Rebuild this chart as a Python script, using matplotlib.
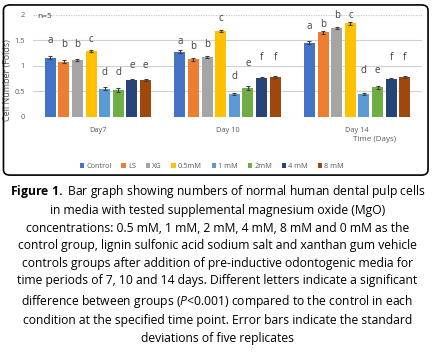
import matplotlib.pyplot as plt
from matplotlib.patches import FancyBboxPatch
import numpy as np

days = ["Day7", "Day 10", "Day 14"]
groups = ["Control", "LS", "XG", "0.5mM", "1 mM", "2mM", "4 mM", "8 mM"]
colors = ["#4472C4", "#ED7D31", "#A5A5A5", "#FFC000", "#5B9BD5", "#70AD47", "#264478", "#9E480E"]

# values per group, one entry per day
control = [1.16, 1.28, 1.45]
ls = [1.08, 1.13, 1.66]
xg = [1.12, 1.18, 1.75]
mm05 = [1.29, 1.69, 1.83]
mm1 = [0.55, 0.45, 0.45]
mm2 = [0.52, 0.57, 0.58]
mm4 = [0.73, 0.76, 0.74]
mm8 = [0.73, 0.78, 0.78]
values = [control, ls, xg, mm05, mm1, mm2, mm4, mm8]

errors = [
    [0.03, 0.03, 0.03],
    [0.03, 0.03, 0.03],
    [0.02, 0.02, 0.02],
    [0.02, 0.02, 0.02],
    [0.03, 0.02, 0.02],
    [0.04, 0.04, 0.03],
    [0.02, 0.02, 0.02],
    [0.02, 0.02, 0.02],
]

letters = [
    ["a", "b", "b", "c", "d", "d", "e", "e"],
    ["a", "b", "b", "c", "d", "e", "f", "f"],
    ["a", "b", "b", "c", "d", "e", "f", "f"],
]
# heights of the significance letters
letter_y = [
    [1.49, 1.41, 1.41, 1.51, 0.86, 0.86, 1.00, 1.00],
    [1.48, 1.38, 1.42, 1.92, 0.80, 1.04, 1.17, 1.17],
    [1.77, 1.82, 1.99, 1.99, 0.90, 0.90, 1.17, 1.17],
]

caption = (
    r"$\bf{Figure\ 1.\ }$Bar graph showing numbers of normal human dental pulp cells" "\n"
    "in media with tested supplemental magnesium oxide (MgO)\n"
    "concentrations: 0.5 mM, 1 mM, 2 mM, 4 mM, 8 mM and 0 mM as the\n"
    "control group, lignin sulfonic acid sodium salt and xanthan gum vehicle\n"
    "controls groups after addition of pre-inductive odontogenic media for\n"
    "time periods of 7, 10 and 14 days. Different letters indicate a significant\n"
    r"difference between groups ($\it{P}$<0.001) compared to the control in each" "\n"
    "condition at the specified time point. Error bars indicate the standard\n"
    "deviations of five replicates"
)

plt.rcParams["font.family"] = ["Open Sans", "DejaVu Sans"]
plt.rcParams["mathtext.fontset"] = "custom"
plt.rcParams["mathtext.rm"] = "Open Sans"
plt.rcParams["mathtext.bf"] = "Open Sans:bold"
plt.rcParams["mathtext.it"] = "Open Sans:italic"

fig = plt.figure(figsize=(4.35, 3.53), dpi=100)

# rounded frame around the chart
frame = FancyBboxPatch((0.008, 0.504), 0.976, 0.482,
                       boxstyle="round,pad=0,rounding_size=0.015",
                       transform=fig.transFigure, fill=False,
                       edgecolor="black", linewidth=1.2)
fig.patches.append(frame)

ax = fig.add_axes([0.076, 0.669, 0.894, 0.289])
x = np.arange(len(days))
n = len(groups)
w = 0.105
for i, (g, vals, err, c) in enumerate(zip(groups, values, errors, colors)):
    pos = x + (i - (n - 1) / 2) * w
    ax.bar(pos, vals, width=w * 0.8, color=c, label=g, zorder=3,
           yerr=err, error_kw=dict(ecolor="#404040", elinewidth=0.8, capsize=1.5, capthick=0.8))
    for j in range(len(days)):
        ax.text(pos[j], letter_y[j][i], letters[j][i], ha="center", va="center",
                fontsize=7, color="#404040", zorder=4)

ax.set_xlim(-0.5, 2.5)
ax.set_ylim(0, 2)
ax.set_yticks([0, 0.5, 1, 1.5, 2])
ax.set_yticklabels(["0", "0.5", "1", "1.5", "2"])
ax.set_xticks(x)
ax.set_xticklabels(days)
ax.tick_params(axis="both", length=0, labelsize=5.3, labelcolor="#595959")
ax.tick_params(axis="x", pad=7)
ax.tick_params(axis="y", pad=6)
for s in ax.spines.values():
    s.set_visible(False)
for yv in [0.5, 1, 1.5]:
    ax.axhline(yv, color="#D0D0D0", linewidth=0.8, zorder=1)
for yv in [0, 2]:
    ax.axhline(yv, color="#C8C8C8", linewidth=0.9, linestyle=(0, (1, 1)), zorder=1)

ax.set_ylabel("Cell Number (Folds)", fontsize=6.5, color="#595959", labelpad=5)
ax.yaxis.set_label_coords(-0.055, 0.36)
ax.text(0.012, 0.985, "n=5", transform=ax.transAxes, fontsize=6, color="#404040",
        ha="left", va="center")
fig.text(0.862, 0.606, "Time (Days)", fontsize=5.8, color="#595959", ha="center", va="center")

ax.legend(loc="center", bbox_to_anchor=(0.46, -0.49), ncol=8, frameon=False,
          fontsize=5.3, handlelength=0.6, handleheight=0.6, handletextpad=0.3,
          columnspacing=1.3, labelcolor="#595959")

fig.text(0.5, 0.482, caption, ha="center", va="top", fontsize=8.7,
         linespacing=1.45, color="black")

plt.savefig("out.png", dpi=100)
plt.close()
